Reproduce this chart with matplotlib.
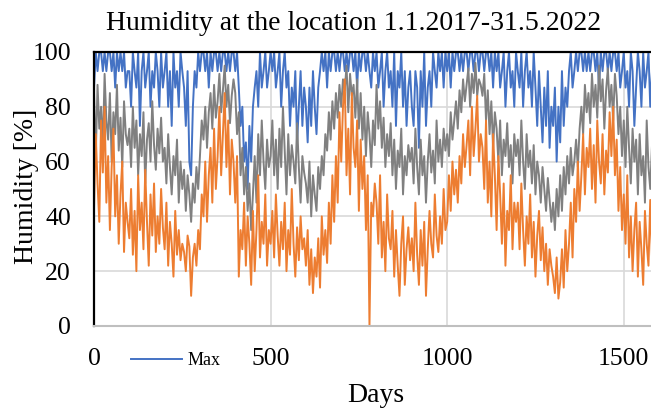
import matplotlib.pyplot as plt
import numpy as np

plt.rcParams['font.family'] = ['Liberation Serif', 'DejaVu Serif']

# daily humidity values, read every 5 days (days 0, 5, 10 ...)
min_hum = [
    43, 70, 52, 38, 75, 56, 80, 45, 62, 35, 58, 72, 40, 55, 30, 48, 60, 27, 45, 38,
    32, 50, 26, 42, 20, 55, 35, 45, 28, 57, 38, 22, 48, 33, 52, 27, 40, 30, 50, 36,
    28, 45, 22, 38, 30, 18, 42, 26, 35, 24, 30, 27, 20, 33, 29, 11, 25, 30, 22, 35,
    28, 48, 40, 60, 38, 55, 65, 45, 72, 50, 62, 80, 55, 70, 85, 58, 75, 48, 68, 60,
    45, 62, 18, 35, 28, 45, 22, 40, 30, 15, 42, 20, 35, 55, 25, 38, 30, 48, 22, 35,
    30, 42, 25, 48, 33, 22, 38, 28, 45, 20, 35, 26, 50, 30, 18, 36, 24, 40, 28, 32,
    22, 35, 15, 28, 12, 25, 18, 32, 14, 40, 26, 35, 23, 45, 30, 55, 38, 62, 45, 78,
    60, 80, 90, 55, 72, 48, 85, 65, 58, 75, 42, 68, 50, 62, 35, 55, 0, 45, 40, 52,
    45, 30, 55, 25, 38, 20, 48, 32, 28, 42, 18, 35, 22, 11, 30, 40, 15, 28, 36, 24,
    32, 20, 45, 26, 15, 35, 22, 38, 11, 28, 42, 30, 25, 48, 33, 27, 40, 30, 50, 35,
    38, 55, 42, 60, 48, 57, 45, 62, 52, 70, 58, 66, 75, 55, 80, 62, 72, 84, 60, 70,
    65, 50, 75, 45, 60, 40, 70, 55, 35, 62, 48, 30, 52, 22, 42, 35, 55, 28, 45, 38,
    45, 28, 52, 35, 22, 40, 30, 48, 25, 38, 18, 33, 42, 24, 36, 20, 30, 15, 28, 22,
    18, 12, 25, 10, 16, 28, 14, 35, 20, 30, 45, 25, 50, 38, 60, 42, 55, 70, 48, 65,
    58, 72, 50, 66, 45, 75, 60, 52, 70, 48, 64, 56, 78, 62, 80, 55, 68, 42, 58, 35,
    48, 30, 55, 25, 40, 20, 35, 45, 18, 38, 28, 15, 42, 30, 22, 46, 25, 35, 20, 40,
]

mean_hum = [
    85, 62, 88, 72, 80, 65, 92, 75, 68, 85, 60, 78, 70, 88, 64, 76, 58, 82, 70, 66,
    72, 58, 80, 65, 75, 55, 70, 62, 78, 52, 68, 74, 60, 82, 66, 57, 72, 63, 76, 60,
    65, 52, 70, 58, 48, 62, 55, 68, 45, 60, 50, 57, 42, 55, 48, 38, 52, 45, 58, 50,
    62, 75, 68, 80, 65, 78, 85, 72, 88, 76, 82, 92, 78, 86, 95, 80, 88, 74, 84, 90,
    85, 70, 78, 55, 65, 48, 58, 42, 52, 35, 48, 62, 45, 70, 55, 75, 60, 50, 68, 58,
    62, 75, 55, 68, 50, 72, 58, 80, 64, 48, 70, 55, 66, 60, 52, 74, 58, 45, 62, 56,
    52, 45, 60, 40, 55, 48, 42, 58, 50, 62, 55, 70, 64, 78, 68, 82, 72, 85, 76, 88,
    80, 90, 86, 95, 78, 92, 84, 88, 76, 90, 72, 85, 68, 80, 62, 78, 70, 58, 75, 66,
    88, 72, 82, 65, 76, 58, 70, 62, 74, 55, 68, 50, 64, 58, 72, 48, 62, 55, 66, 60,
    65, 52, 72, 58, 48, 68, 55, 62, 45, 60, 70, 56, 64, 52, 75, 60, 68, 58, 72, 64,
    70, 62, 78, 68, 75, 82, 72, 86, 78, 90, 82, 88, 94, 80, 92, 85, 96, 84, 90, 88,
    84, 92, 75, 86, 70, 82, 65, 78, 72, 60, 75, 55, 68, 62, 74, 58, 66, 52, 70, 62,
    68, 55, 75, 60, 50, 70, 58, 64, 52, 66, 48, 60, 55, 45, 58, 50, 42, 54, 46, 38,
    45, 35, 50, 40, 55, 42, 58, 48, 62, 52, 65, 55, 60, 68, 58, 72, 80, 70, 88, 78,
    85, 74, 92, 80, 88, 76, 95, 82, 90, 72, 86, 94, 80, 88, 75, 92, 84, 70, 80, 62,
    75, 58, 80, 65, 52, 72, 60, 68, 48, 70, 55, 62, 45, 75, 58, 50, 66, 42, 60, 55,
]

max_hum = [
    87, 100, 93, 100, 100, 93, 100, 93, 100, 100, 93, 100, 87, 100, 93, 100, 93, 100, 87, 93,
    93, 80, 100, 93, 87, 100, 73, 93, 100, 87, 93, 100, 80, 93, 87, 100, 93, 80, 100, 87,
    93, 100, 80, 93, 73, 100, 87, 93, 80, 100, 93, 87, 73, 93, 60, 55, 80, 93, 87, 100,
    93, 100, 100, 93, 100, 87, 100, 93, 100, 100, 93, 100, 93, 100, 100, 93, 100, 93, 100, 100,
    93, 100, 87, 73, 80, 60, 67, 50, 73, 60, 80, 87, 93, 80, 100, 87, 93, 100, 87, 93,
    100, 93, 100, 87, 93, 100, 80, 93, 100, 87, 93, 73, 87, 80, 93, 67, 80, 93, 73, 87,
    80, 67, 87, 73, 93, 80, 70, 87, 93, 100, 93, 100, 87, 100, 93, 100, 100, 93, 100, 93,
    100, 100, 93, 100, 93, 100, 100, 93, 100, 87, 100, 93, 100, 100, 93, 100, 93, 87, 100, 93,
    100, 87, 93, 100, 80, 93, 100, 87, 93, 80, 100, 73, 93, 87, 100, 80, 93, 73, 87, 93,
    80, 73, 93, 87, 65, 93, 80, 100, 73, 87, 93, 80, 100, 93, 87, 100, 93, 100, 87, 100,
    93, 100, 87, 100, 93, 100, 100, 93, 100, 93, 100, 100, 93, 100, 100, 93, 100, 100, 93, 100,
    100, 93, 100, 100, 93, 100, 87, 100, 93, 100, 87, 93, 100, 80, 93, 100, 87, 93, 80, 100,
    93, 87, 100, 80, 93, 100, 87, 93, 80, 100, 87, 73, 93, 80, 67, 87, 73, 93, 65, 80,
    73, 87, 60, 80, 67, 93, 73, 87, 80, 93, 100, 87, 93, 100, 93, 100, 100, 93, 100, 93,
    100, 93, 100, 100, 93, 100, 87, 100, 93, 100, 100, 93, 100, 93, 100, 100, 93, 100, 87, 93,
    100, 87, 93, 80, 100, 93, 73, 87, 100, 93, 80, 100, 87, 93, 100, 80, 93, 87, 100, 93,
]

days = np.arange(len(min_hum)) * 5

fig = plt.figure(figsize=(6.51, 4.09), dpi=100)
# the plot area runs past the right edge of the picture
ax = fig.add_axes([0.1444, 0.203, 1.085, 0.67])

ax.plot(days, max_hum, color='#4472C4', lw=1.4, label='Max')
ax.plot(days, mean_hum, color='#808080', lw=1.4)
ax.plot(days, min_hum, color='#ED7D31', lw=1.4)

ax.set_xlim(0, 2000)
ax.set_ylim(0, 100)
ax.set_xticks([0, 500, 1000, 1500, 2000])
ax.set_yticks([0, 20, 40, 60, 80, 100])
ax.grid(True, color='#D9D9D9', lw=1.2)
ax.set_axisbelow(True)
ax.tick_params(length=0, labelsize=18.5)
ax.tick_params(axis='x', pad=16)
ax.tick_params(axis='y', pad=16.5)

ax.spines['left'].set_color('black')
ax.spines['left'].set_linewidth(1.6)
ax.spines['top'].set_color('black')
ax.spines['top'].set_linewidth(1.6)
ax.spines['bottom'].set_color('#BFBFBF')
ax.spines['bottom'].set_linewidth(1.5)
ax.spines['right'].set_visible(False)

fig.text(353.5 / 651, 0.9267, 'Humidity at the location 1.1.2017-31.5.2022',
         fontsize=20, ha='center', va='baseline')
fig.text(27 / 651, 0.545, 'Humidity [%]', fontsize=20, rotation=90,
         ha='center', va='center')
fig.text(376 / 651, 0.017, 'Days', fontsize=20, ha='center', va='baseline')

leg = fig.legend(loc='center left', bbox_to_anchor=(0.177, 0.118), frameon=False,
                 fontsize=13, handlelength=2.8, handletextpad=0.3)

fig.savefig('out.png', dpi=100)
